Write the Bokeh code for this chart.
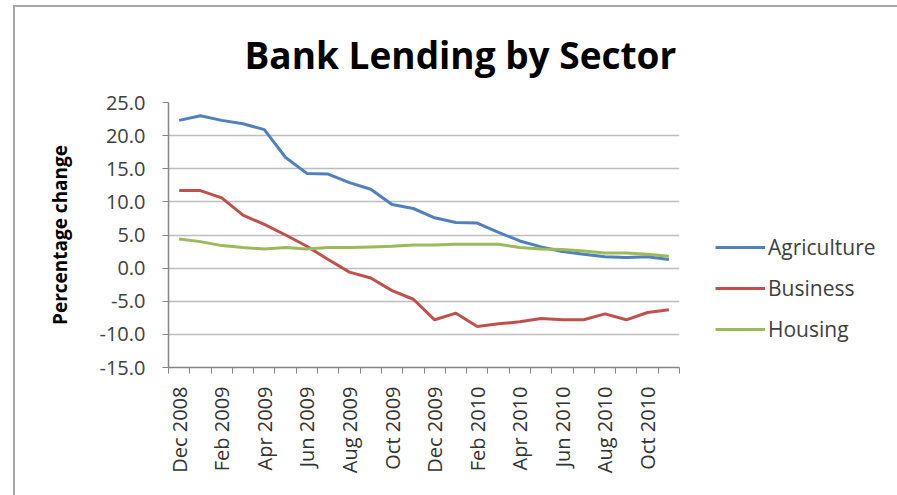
from bokeh.plotting import figure
from bokeh.models import FixedTicker, Legend, LegendItem, ColumnDataSource
from bokeh.embed import file_html
from bokeh.resources import INLINE
import math

months = ["Dec 2008", "Jan 2009", "Feb 2009", "Mar 2009", "Apr 2009", "May 2009",
          "Jun 2009", "Jul 2009", "Aug 2009", "Sep 2009", "Oct 2009", "Nov 2009",
          "Dec 2009", "Jan 2010", "Feb 2010", "Mar 2010", "Apr 2010", "May 2010",
          "Jun 2010", "Jul 2010", "Aug 2010", "Sep 2010", "Oct 2010", "Nov 2010"]
agriculture = [22.3, 23.0, 22.3, 21.8, 20.9, 16.7, 14.3, 14.2, 12.9, 11.9, 9.6, 9.0,
               7.6, 6.9, 6.8, 5.4, 4.1, 3.2, 2.5, 2.1, 1.7, 1.6, 1.7, 1.3]
business = [11.7, 11.7, 10.6, 8.0, 6.6, 5.0, 3.3, 1.3, -0.6, -1.5, -3.4, -4.7,
            -7.8, -6.8, -8.8, -8.4, -8.1, -7.6, -7.8, -7.8, -6.9, -7.8, -6.7, -6.3]
housing = [4.4, 4.0, 3.4, 3.1, 2.9, 3.1, 2.9, 3.1, 3.1, 3.2, 3.3, 3.5,
           3.5, 3.6, 3.6, 3.6, 3.1, 2.9, 2.8, 2.6, 2.3, 2.3, 2.1, 1.8]
y_ticks = [-15, -10, -5, 0, 5, 10, 15, 20, 25]
series_names = ["Agriculture", "Business", "Housing"]
colors = ["#4F81BD", "#C0504D", "#9BBB59"]

idx = list(range(len(months)))
src = ColumnDataSource(dict(x=idx, agriculture=agriculture, business=business, housing=housing))

FONT = "Open Sans"
p = figure(frame_width=511, frame_height=265, output_backend="svg", toolbar_location=None,
           x_range=(-0.5, len(months) - 0.5), y_range=(-15, 25),
           min_border_left=153, min_border_right=0, min_border_top=95, min_border_bottom=128)
p.margin = (5, 0, 0, 13)
p.styles = {"border-left": "2px solid #a6a6a6", "border-top": "2px solid #a6a6a6"}
p.outline_line_color = None
p.background_fill_color = "white"
p.border_fill_color = "white"

# title
p.title.text = "Bank Lending by Sector"
p.title.text_font = FONT
p.title.text_font_size = "37px"
p.title.text_font_style = "bold"
p.title.text_color = "#000000"
p.title.align = "left"
p.title.vertical_align = "top"
p.title.offset = 76
p.title.standoff = 42

# lines
renderers = []
for col, c in zip(["agriculture", "business", "housing"], colors):
    r = p.line("x", col, source=src, line_color=c, line_width=3)
    renderers.append(r)

# x axis
xa = p.xaxis[0]
xa.ticker = FixedTicker(ticks=idx[::2], minor_ticks=[i - 0.5 for i in range(len(months) + 1)])
xa.major_label_overrides = {i: months[i] for i in idx[::2]}
xa.major_label_orientation = math.pi / 2
xa.major_tick_line_color = None
xa.minor_tick_line_color = "#868686"
xa.minor_tick_out = 6
xa.minor_tick_in = 0
xa.axis_line_color = "#868686"
xa.axis_line_width = 1.5
xa.major_label_text_font = FONT
xa.major_label_text_font_size = "20px"
xa.major_label_text_color = "#333333"
xa.major_label_standoff = 13

# y axis
ya = p.yaxis[0]
ya.ticker = FixedTicker(ticks=y_ticks)
ya.major_label_overrides = {v: f"{v:.1f}" for v in y_ticks}
ya.minor_tick_line_color = None
ya.major_tick_out = 6
ya.major_tick_in = 0
ya.major_tick_line_color = "#868686"
ya.axis_line_color = "#868686"
ya.axis_line_width = 1.5
ya.major_label_text_font = FONT
ya.major_label_text_font_size = "20px"
ya.major_label_text_color = "#404040"
ya.major_label_standoff = 17
ya.axis_label = "Percentage change"
ya.axis_label_text_font = FONT
ya.axis_label_text_font_size = "19px"
ya.axis_label_text_font_style = "bold"
ya.axis_label_text_color = "#000000"
ya.axis_label_standoff = 24

p.xgrid.grid_line_color = None
p.ygrid.grid_line_color = "#bdbdbd"
p.ygrid.grid_line_width = 1.5
p.ygrid.ticker = FixedTicker(ticks=y_ticks)

legend = Legend(items=[LegendItem(label=n, renderers=[r]) for n, r in zip(series_names, renderers)],
                location=(36, 24), orientation="vertical")
legend.glyph_width = 50
legend.glyph_height = 20
legend.label_height = 20
legend.spacing = 13
legend.padding = 0
legend.margin = 0
legend.label_standoff = 3
legend.border_line_color = None
legend.background_fill_alpha = 0
legend.label_text_font = FONT
legend.label_text_font_size = "21px"
legend.label_text_color = "#404040"
p.add_layout(legend, "right")

open("out.html", "w").write(file_html(p, INLINE))
